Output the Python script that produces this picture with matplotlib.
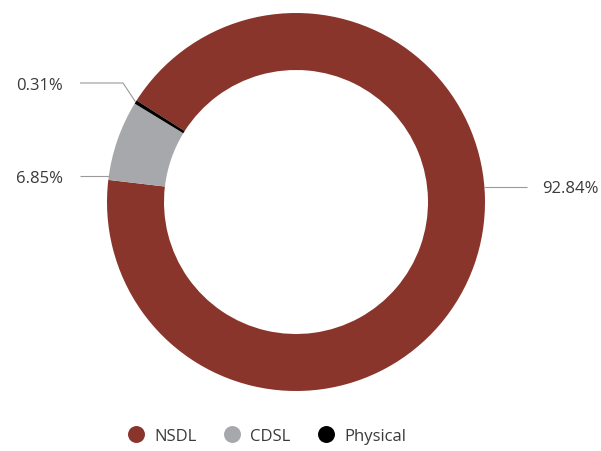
import numpy as np
import matplotlib.pyplot as plt
from matplotlib.lines import Line2D

plt.rcParams['font.family'] = ['Open Sans', 'DejaVu Sans']

# holdings by mode
categories = ["NSDL", "CDSL", "Physical"]
shares = [92.84, 6.85, 0.31]
labels = ["92.84%", "6.85%", "0.31%"]
colors = ["#8a352b", "#a7a8ab", "#000000"]

W, H = 601, 452
fig = plt.figure(figsize=(W / 100, H / 100), dpi=100)
ax = fig.add_axes([0, 0, 1, 1])

# work in pixel-like coords, y measured up from the bottom
cx, cy, R = 296, H - 203, 189
wedges, _ = ax.pie(shares, colors=colors, radius=R, center=(cx, cy),
                   startangle=147.5, counterclock=False,
                   wedgeprops=dict(width=57, linewidth=0))

ax.set_xlim(0, W)
ax.set_ylim(0, H)
ax.set_aspect("equal")
ax.axis("off")

line_kw = dict(color="#9a9a9a", lw=0.8, solid_capstyle="butt")
txt_kw = dict(fontsize=12, color="#3a3a3a", va="center")

# NSDL label on the right
yy = H - 188
xe = cx + np.sqrt(R**2 - (yy - cy) ** 2)
ax.plot([xe, 527], [yy, yy], **line_kw)
ax.text(542, H - 189, labels[0], ha="left", **txt_kw)

# CDSL label on the left
yy = H - 177
xe = cx - np.sqrt(R**2 - (yy - cy) ** 2)
ax.plot([80, xe], [yy, yy], **line_kw)
ax.text(63, H - 179, labels[1], ha="right", **txt_kw)

# Physical label, elbow line to the thin wedge
w = wedges[2]
mid = np.deg2rad((w.theta1 + w.theta2) / 2)
px, py = cx + R * np.cos(mid), cy + R * np.sin(mid)
ax.plot([80, 123, px], [H - 84, H - 84, py], **line_kw)
ax.text(63, H - 86, labels[2], ha="right", **txt_kw)

handles = [Line2D([], [], marker="o", ls="", markersize=12.2,
                  markerfacecolor=c, markeredgewidth=0) for c in colors]
ax.legend(handles, categories, loc="center", bbox_to_anchor=(267 / W, 15 / H),
          ncol=3, frameon=False, fontsize=12, handlelength=1.0,
          handletextpad=0.6, columnspacing=1.6, labelcolor="#3a3a3a")

fig.savefig("out.png", dpi=100)
